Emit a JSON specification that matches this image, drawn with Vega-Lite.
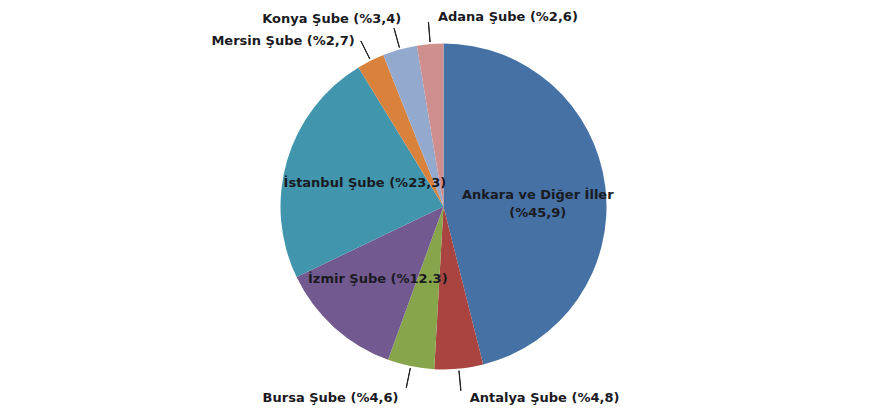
{
  "$schema": "https://vega.github.io/schema/vega-lite/v6.json",
  "width": 887,
  "height": 413,
  "autosize": {"type": "fit", "contains": "padding"},
  "padding": 0,
  "background": "white",
  "config": {"view": {"stroke": null}},
  "data": {
    "values": [
      {"idx": 1, "name": "Ankara ve Diğer İller", "value": 45.9, "label": "Ankara  ve Diğer İller\n(%45,9)"},
      {"idx": 2, "name": "Antalya Şube", "value": 4.8, "label": "Antalya  Şube (%4,8)"},
      {"idx": 3, "name": "Bursa Şube", "value": 4.6, "label": "Bursa Şube (%4,6)"},
      {"idx": 4, "name": "İzmir Şube", "value": 12.3, "label": "İzmir  Şube (%12.3)"},
      {"idx": 5, "name": "İstanbul Şube", "value": 23.3, "label": "İstanbul  Şube (%23,3)"},
      {"idx": 6, "name": "Mersin Şube", "value": 2.7, "label": "Mersin Şube (%2,7)"},
      {"idx": 7, "name": "Konya Şube", "value": 3.4, "label": "Konya  Şube (%3,4)"},
      {"idx": 8, "name": "Adana Şube", "value": 2.6, "label": "Adana  Şube (%2,6)"}
    ]
  },
  "transform": [
    {"window": [{"op": "sum", "field": "value", "as": "cum"}], "sort": [{"field": "idx"}], "frame": [null, 0]},
    {"calculate": "datum.cum - datum.value / 2", "as": "mid"},
    {"calculate": "datum.mid + 0.02", "as": "mid2"}
  ],
  "layer": [
    {
      "mark": {"type": "arc", "outerRadius": 163},
      "encoding": {
        "theta": {"field": "value", "type": "quantitative", "stack": true, "scale": {"domain": [0, 99.6]}},
        "order": {"field": "idx", "type": "quantitative"},
        "color": {
          "field": "name",
          "type": "nominal",
          "legend": null,
          "scale": {
            "domain": ["Ankara ve Diğer İller", "Antalya Şube", "Bursa Şube", "İzmir Şube", "İstanbul Şube", "Mersin Şube", "Konya Şube", "Adana Şube"],
            "range": ["#4571A5", "#A94441", "#87A64C", "#72598F", "#4196AE", "#D9823B", "#94A9CE", "#CF8F8E"]
          }
        }
      }
    },
    {
      "transform": [{"filter": {"field": "idx", "oneOf": [2, 3, 6, 7, 8]}}],
      "mark": {"type": "arc", "radius": 185, "radius2": 165, "fill": "#222222", "stroke": "#222222", "strokeWidth": 1},
      "encoding": {
        "theta": {"field": "mid", "type": "quantitative", "stack": null, "scale": {"domain": [0, 99.6]}},
        "theta2": {"field": "mid2"}
      }
    },
    {
      "transform": [{"filter": {"field": "idx", "oneOf": [1]}}],
      "mark": {"type": "text", "radius": 95, "align": "center", "baseline": "middle", "lineBreak": "\n", "lineHeight": 18, "font": "DejaVu Sans", "fontWeight": "bold", "fontSize": 13, "color": "#1a1a22"},
      "encoding": {
        "theta": {"field": "mid", "type": "quantitative", "stack": null, "scale": {"domain": [0, 99.6]}},
        "text": {"field": "label"}
      }
    },
    {
      "transform": [{"filter": {"field": "idx", "oneOf": [5]}}],
      "mark": {"type": "text", "radius": 82, "align": "center", "baseline": "middle", "font": "DejaVu Sans", "fontWeight": "bold", "fontSize": 13, "color": "#1a1a22"},
      "encoding": {
        "theta": {"field": "mid", "type": "quantitative", "stack": null, "scale": {"domain": [0, 99.6]}},
        "text": {"field": "label"}
      }
    },
    {
      "transform": [{"filter": {"field": "idx", "oneOf": [4]}}],
      "mark": {"type": "text", "radius": 98, "align": "center", "baseline": "middle", "font": "DejaVu Sans", "fontWeight": "bold", "fontSize": 13, "color": "#1a1a22"},
      "encoding": {
        "theta": {"field": "mid", "type": "quantitative", "stack": null, "scale": {"domain": [0, 99.6]}},
        "text": {"field": "label"}
      }
    },
    {
      "transform": [{"filter": {"field": "idx", "oneOf": [8]}}],
      "mark": {"type": "text", "radius": 190, "align": "left", "dx": 10, "baseline": "middle", "font": "DejaVu Sans", "fontWeight": "bold", "fontSize": 13, "color": "#1a1a22"},
      "encoding": {
        "theta": {"field": "mid", "type": "quantitative", "stack": null, "scale": {"domain": [0, 99.6]}},
        "text": {"field": "label"}
      }
    },
    {
      "transform": [{"filter": {"field": "idx", "oneOf": [7]}}],
      "mark": {"type": "text", "radius": 195, "align": "right", "dx": 10, "baseline": "middle", "font": "DejaVu Sans", "fontWeight": "bold", "fontSize": 13, "color": "#1a1a22"},
      "encoding": {
        "theta": {"field": "mid", "type": "quantitative", "stack": null, "scale": {"domain": [0, 99.6]}},
        "text": {"field": "label"}
      }
    },
    {
      "transform": [{"filter": {"field": "idx", "oneOf": [6]}}],
      "mark": {"type": "text", "radius": 185, "align": "right", "dx": -6, "baseline": "middle", "font": "DejaVu Sans", "fontWeight": "bold", "fontSize": 13, "color": "#1a1a22"},
      "encoding": {
        "theta": {"field": "mid", "type": "quantitative", "stack": null, "scale": {"domain": [0, 99.6]}},
        "text": {"field": "label"}
      }
    },
    {
      "transform": [{"filter": {"field": "idx", "oneOf": [2]}}],
      "mark": {"type": "text", "radius": 192, "align": "left", "dx": 8, "baseline": "middle", "font": "DejaVu Sans", "fontWeight": "bold", "fontSize": 13, "color": "#1a1a22"},
      "encoding": {
        "theta": {"field": "mid", "type": "quantitative", "stack": null, "scale": {"domain": [0, 99.6]}},
        "text": {"field": "label"}
      }
    },
    {
      "transform": [{"filter": {"field": "idx", "oneOf": [3]}}],
      "mark": {"type": "text", "radius": 195, "align": "right", "dx": -6, "baseline": "middle", "font": "DejaVu Sans", "fontWeight": "bold", "fontSize": 13, "color": "#1a1a22"},
      "encoding": {
        "theta": {"field": "mid", "type": "quantitative", "stack": null, "scale": {"domain": [0, 99.6]}},
        "text": {"field": "label"}
      }
    }
  ]
}
